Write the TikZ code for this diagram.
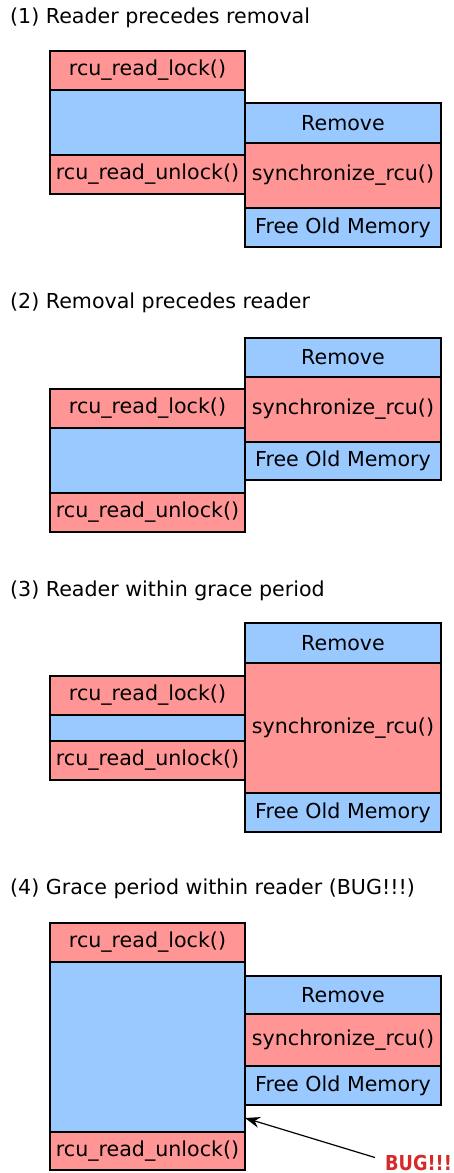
\documentclass[tikz,border=0pt]{standalone}
\usepackage{fontspec}
\setmainfont{DejaVu Sans}
\usetikzlibrary{arrows.meta}
\definecolor{rcured}{HTML}{FF9595}
\definecolor{rcublue}{HTML}{99C9FF}
\definecolor{bugred}{HTML}{D42A2A}
\tikzset{
  blk/.style={draw=black, line width=2pt, inner sep=0pt, outer sep=0pt, anchor=north west,
    font=\fontsize{20.6}{24}\selectfont},
  rd/.style={blk, fill=rcured},
  bl/.style={blk, fill=rcublue},
  ttl/.style={anchor=base west, inner sep=0pt, font=\fontsize{20.6}{24}\selectfont},
  arr/.style={-{Stealth[length=15pt,width=11pt,inset=5pt]}, line width=1.2pt},
}
\begin{document}
\begin{tikzpicture}[x=1pt,y=-1pt]
\useasboundingbox (0,0) rectangle (453,1173);
% ---------- (1)
\node[ttl] (t1) at (10,23) {(1) Reader precedes removal};
\node[rd, minimum width=195pt, minimum height=39pt] (l1) at (50,51) {rcu\_read\_lock()};
\node[bl, minimum width=195pt, minimum height=65pt] (b1) at (50,90) {};
\node[rd, minimum width=195pt, minimum height=39pt] (u1) at (50,155) {rcu\_read\_unlock()};
\node[bl, minimum width=196pt, minimum height=40pt] (r1) at (245,103) {Remove};
\node[rd, minimum width=196pt, minimum height=65pt] (s1) at (245,143) {synchronize\_rcu()};
\node[bl, minimum width=196pt, minimum height=39pt] (f1) at (245,208) {Free Old Memory};
% ---------- (2)
\node[ttl] (t2) at (10,308) {(2) Removal precedes reader};
\node[bl, minimum width=196pt, minimum height=39pt] (r2) at (245,338) {Remove};
\node[rd, minimum width=196pt, minimum height=65pt] (s2) at (245,377) {synchronize\_rcu()};
\node[bl, minimum width=196pt, minimum height=38pt] (f2) at (245,442) {Free Old Memory};
\node[rd, minimum width=195pt, minimum height=39pt] (l2) at (50,389) {rcu\_read\_lock()};
\node[bl, minimum width=195pt, minimum height=65pt] (b2) at (50,428) {};
\node[rd, minimum width=195pt, minimum height=39pt] (u2) at (50,493) {rcu\_read\_unlock()};
% ---------- (3)
\node[ttl] (t3) at (10,596) {(3) Reader within grace period};
\node[bl, minimum width=196pt, minimum height=40pt] (r3) at (245,623) {Remove};
\node[rd, minimum width=196pt, minimum height=130pt] (s3) at (245,663) {synchronize\_rcu()};
\node[bl, minimum width=196pt, minimum height=39pt] (f3) at (245,793) {Free Old Memory};
\node[rd, minimum width=195pt, minimum height=39pt] (l3) at (50,676) {rcu\_read\_lock()};
\node[bl, minimum width=195pt, minimum height=26pt] (b3) at (50,715) {};
\node[rd, minimum width=195pt, minimum height=39pt] (u3) at (50,741) {rcu\_read\_unlock()};
% ---------- (4)
\node[ttl] (t4) at (10,894) {(4) Grace period within reader (BUG!!!)};
\node[rd, minimum width=195pt, minimum height=39pt] (l4) at (50,923) {rcu\_read\_lock()};
\node[bl, minimum width=195pt, minimum height=170pt] (b4) at (50,962) {};
\node[rd, minimum width=195pt, minimum height=38pt] (u4) at (50,1132) {rcu\_read\_unlock()};
\node[bl, minimum width=196pt, minimum height=38pt] (r4) at (245,976) {Remove};
\node[rd, minimum width=196pt, minimum height=52pt] (s4) at (245,1014) {synchronize\_rcu()};
\node[bl, minimum width=196pt, minimum height=39pt] (f4) at (245,1066) {Free Old Memory};
\node[anchor=base west, inner sep=0pt, text=bugred, xscale=0.86, transform shape,
  font=\fontsize{20.6}{24}\selectfont\bfseries] (bug) at (385,1170) {BUG!!!};
\draw[arr] ([shift={(-10,3)}]bug.north west) -- ([shift={(0,-14)}]b4.south east);
\end{tikzpicture}
\end{document}
